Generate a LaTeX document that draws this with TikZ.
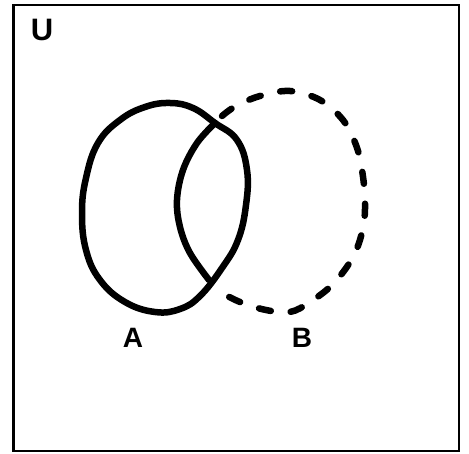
\documentclass[tikz,border=0pt]{standalone}
\usepackage{fontspec}
\setmainfont{Liberation Sans}
\begin{document}
\begin{tikzpicture}[x=1pt,y=-1pt,
  frame/.style={draw=black,line width=2.6pt},
  setline/.style={draw=black,line width=6.5pt,line join=round,line cap=round},
  dashline/.style={draw=black,line width=6.5pt,line cap=round,dash pattern=on 12pt off 20pt},
  lbl/.style={font=\bfseries\fontsize{28}{30}\selectfont,inner sep=0pt}]
\useasboundingbox (0,0) rectangle (469,454);
\fill[white] (0,0) rectangle (469,454);
\draw[frame] (13.5,5) rectangle (459,451);
\node[lbl,font=\bfseries\fontsize{31}{33}\selectfont] (U) at (42,30) {U};
% set A
\draw[setline] plot[smooth cycle,tension=0.7] coordinates {
 (215,123) (237,140) (247,170) (246,205) (238,240) (222,268) (200,296) (180,309)
 (155,312) (125,302) (100,280) (86,250) (82,213) (86,178) (98,143) (120,120)
 (145,107) (170,103) (193,108)};
% set B, part inside A
\draw[setline] plot[smooth,tension=0.6] coordinates {
 (215,123) (197,143) (183,170) (177,200) (180,227) (190,253) (209,280)};
% set B, part outside A
\draw[dashline] plot[smooth,tension=0.6] coordinates {
 (222,116) (236,106) (260,96) (290,91) (320,100) (343,120) (356,145) (362,170)
 (365,200) (363,228) (353,257) (333,284) (310,302) (290,312) (266,310) (240,302) (218,291)};
\node[lbl] (A) at (133,338) {A};
\node[lbl] (B) at (302,338) {B};
\end{tikzpicture}
\end{document}
